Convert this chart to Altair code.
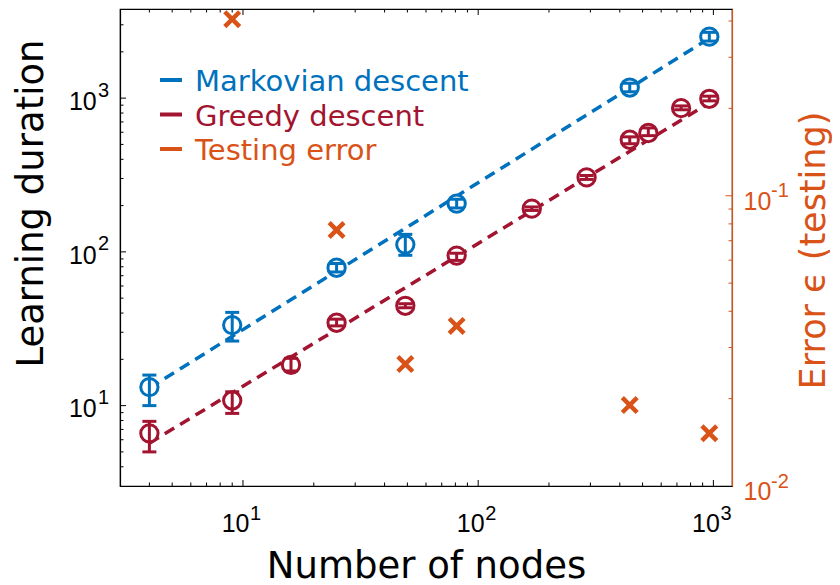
import altair as alt
import pandas as pd

# ---------------- data ----------------
nodes_markov = [4, 9, 25, 49, 81, 441, 961]
dur_markov = [13.2, 33.4, 78.8, 111.5, 206, 1172, 2512]
lo_markov = [10.0, 26.3, 74, 95, 193, 1100, 2350]
hi_markov = [15.8, 40.4, 84, 130, 220, 1250, 2680]

nodes_greedy = [4, 9, 16, 25, 49, 81, 169, 289, 441, 529, 729, 961]
dur_greedy = [6.6, 10.8, 18.4, 34.6, 44.6, 94.6, 191, 305, 536, 593, 861, 990]
lo_greedy = [5.0, 8.9, 16.8, 33.0, 43.3, 88, 186, 296, 505, 570, 840, 960]
hi_greedy = [7.9, 12.3, 20.3, 36.5, 46, 98, 196, 314, 560, 640, 890, 1030]

nodes_error = [9, 25, 49, 81, 441, 961]
test_error = [0.406, 0.0762, 0.0263, 0.0356, 0.019, 0.0152]

fit_nodes = [4, 961]
fit_markov = [13, 2450]
fit_greedy = [5.7, 930]

series_names = ["Markovian descent", "Greedy descent"]
legend_labels = ["Markovian descent", "Greedy descent", "Testing error"]

x_major = [10, 100, 1000]
x_exp = ["1", "2", "3"]
yl_major = [10, 100, 1000]
yl_exp = ["1", "2", "3"]
yr_major = [0.01, 0.1]
yr_exp = ["-2", "-1"]

# ---------------- styling ----------------
BLUE, RED, ORANGE = "#0072BD", "#A2142F", "#D95319"
W, H = 612, 477
TITLE_FONT = "DejaVu Sans"
TICK_FONT = "Liberation Sans"

xscale = alt.Scale(type="log", domain=[3, 1200], nice=False)
ysl = alt.Scale(type="log", domain=[3, 3800], nice=False)
ysr = alt.Scale(type="log", domain=[0.01, 0.44], nice=False)
cscale = alt.Scale(domain=series_names, range=[BLUE, RED])

x_minor = [m * 10 ** k for k in range(0, 3) for m in range(2, 10) if 3 < m * 10 ** k < 1200]
yl_minor = [m * 10 ** k for k in range(0, 4) for m in range(2, 10) if 3 < m * 10 ** k < 3800]
yr_minor = [m * 10.0 ** k for k in (-2, -1) for m in range(2, 10) if 0.01 < m * 10.0 ** k < 0.44]

pts = pd.concat([
    pd.DataFrame({"n": nodes_markov, "d": dur_markov, "lo": lo_markov, "hi": hi_markov,
                  "series": series_names[0]}),
    pd.DataFrame({"n": nodes_greedy, "d": dur_greedy, "lo": lo_greedy, "hi": hi_greedy,
                  "series": series_names[1]}),
])
fits = pd.DataFrame({"n": fit_nodes + fit_nodes, "d": fit_markov + fit_greedy,
                     "series": [series_names[0]] * 2 + [series_names[1]] * 2})
errs = pd.DataFrame({"n": nodes_error, "e": test_error})

xaxis = alt.Axis(title="Number of nodes", labels=False, ticks=False, grid=False,
                 domainColor="black", domainWidth=1.2, titleFont=TITLE_FONT, titleFontSize=37,
                 titleFontWeight="normal", titleColor="black", titleX=W / 2, titleY=91,
                 titleBaseline="alphabetic", titleAlign="center", titleAngle=0)
yaxis_l = alt.Axis(title="Learning duration", labels=False, ticks=False, grid=False,
                   domainColor="black", domainWidth=1.2, titleFont=TITLE_FONT, titleFontSize=37,
                   titleFontWeight="normal", titleColor="black", titleAngle=270, titleX=-78,
                   titleY=194, titleBaseline="alphabetic", titleAlign="center")
yaxis_r = alt.Axis(orient="right", title="Error \u03f5 (testing)", labels=False, ticks=False,
                   grid=False, domainColor=ORANGE, domainWidth=1.2, titleFont=TITLE_FONT,
                   titleFontSize=35, titleFontWeight="normal", titleColor=ORANGE, titleAngle=270,
                   titleX=92, titleY=241, titleBaseline="alphabetic", titleAlign="center")


def X(field="n:Q"):
    return alt.X(field, scale=xscale, axis=xaxis)


def YL(field):
    return alt.Y(field, scale=ysl, axis=yaxis_l)


def YR(field):
    return alt.Y(field, scale=ysr, axis=yaxis_r)


col = alt.Color("series:N", scale=cscale, legend=None)

# ---------------- left (duration) layers ----------------
lines = alt.Chart(fits).mark_line(strokeDash=[11, 7], strokeWidth=3.5).encode(
    x=X(), y=YL("d:Q"), color=col, detail="series:N")
circles = alt.Chart(pts).mark_point(shape="circle", fill="white", strokeWidth=3, size=300,
                                    opacity=1).encode(x=X(), y=YL("d:Q"), color=col)
bars = alt.Chart(pts).mark_rule(strokeWidth=3).encode(
    x=X(), y=YL("lo:Q"), y2="hi:Q", color=col)
cap_lo = alt.Chart(pts).mark_tick(orient="horizontal", size=14, thickness=3, opacity=1).encode(
    x=X(), y=YL("lo:Q"), color=col)
cap_hi = alt.Chart(pts).mark_tick(orient="horizontal", size=14, thickness=3, opacity=1).encode(
    x=X(), y=YL("hi:Q"), color=col)


def xticks(vals, ln):
    d = pd.DataFrame({"v": vals})
    b = alt.Chart(d).mark_rule(color="black", strokeWidth=1).encode(
        x=X("v:Q"), y=alt.value(H), y2=alt.value(H - ln))
    t = alt.Chart(d).mark_rule(color="black", strokeWidth=1).encode(
        x=X("v:Q"), y=alt.value(0), y2=alt.value(ln))
    return [b, t]


def ylticks(vals, ln):
    d = pd.DataFrame({"v": vals})
    return alt.Chart(d).mark_rule(color="black", strokeWidth=1).encode(
        y=YL("v:Q"), x=alt.value(0), x2=alt.value(ln))


def yrticks(vals, ln):
    d = pd.DataFrame({"v": vals})
    return alt.Chart(d).mark_rule(color=ORANGE, strokeWidth=1).encode(
        y=YR("v:Q"), x=alt.value(W), x2=alt.value(W - ln))


xl = pd.DataFrame({"v": x_major, "b": ["10"] * 3, "e": x_exp})
xlab_b = alt.Chart(xl).mark_text(font=TICK_FONT, fontSize=25, align="right",
                                 baseline="alphabetic", dx=6.5, color="black").encode(
    x=X("v:Q"), y=alt.value(H + 46), text="b:N")
xlab_e = alt.Chart(xl).mark_text(font=TICK_FONT, fontSize=20, align="left",
                                 baseline="alphabetic", dx=7, color="black").encode(
    x=X("v:Q"), y=alt.value(H + 34), text="e:N")

yl = pd.DataFrame({"v": yl_major, "b": ["10"] * 3, "e": yl_exp})
ylab_b = alt.Chart(yl).mark_text(font=TICK_FONT, fontSize=25, align="right",
                                 baseline="alphabetic", dy=11.7, color="black").encode(
    y=YL("v:Q"), x=alt.value(-23.3), text="b:N")
ylab_e = alt.Chart(yl).mark_text(font=TICK_FONT, fontSize=20, align="left",
                                 baseline="alphabetic", dy=-1.6, color="black").encode(
    y=YL("v:Q"), x=alt.value(-22), text="e:N")

legend_layers = []
for i, (lab, c) in enumerate(zip(legend_labels, [BLUE, RED, ORANGE])):
    d = pd.DataFrame({"t": [lab]})
    legend_layers.append(alt.Chart(d).mark_rule(color=c, strokeWidth=4).encode(
        x=alt.value(40), x2=alt.value(62), y=alt.value(71 + 34.5 * i)))
    legend_layers.append(alt.Chart(d).mark_text(font=TITLE_FONT, fontSize=29, align="left",
                                                baseline="alphabetic", color=c).encode(
        x=alt.value(75), y=alt.value(82 + 34.5 * i), text="t:N"))

left = alt.layer(
    lines, circles, bars, cap_lo, cap_hi,
    *xticks(x_major, 6), *xticks(x_minor, 3.5),
    ylticks(yl_major, 6), ylticks(yl_minor, 3.5),
    xlab_b, xlab_e, ylab_b, ylab_e, *legend_layers,
)

# ---------------- right (error) layers ----------------
X_PATH = "M-1,-1L1,1M1,-1L-1,1"
crosses = alt.Chart(errs).mark_point(shape=X_PATH, filled=False, strokeWidth=4.5, size=220,
                                     color=ORANGE, opacity=1).encode(x=X(), y=YR("e:Q"))

yr = pd.DataFrame({"v": yr_major, "b": ["10"] * 2, "e": yr_exp})
yrlab_b = alt.Chart(yr).mark_text(font=TICK_FONT, fontSize=25, align="left",
                                  baseline="alphabetic", dy=14.3, color=ORANGE).encode(
    y=YR("v:Q"), x=alt.value(W + 11.6), text="b:N")
yrlab_e = alt.Chart(yr).mark_text(font=TICK_FONT, fontSize=20, align="left",
                                  baseline="alphabetic", dy=1.6, color=ORANGE).encode(
    y=YR("v:Q"), x=alt.value(W + 39), text="e:N")

right = alt.layer(crosses, yrticks([0.1], 6.5), yrticks(yr_minor, 3.5), yrlab_b, yrlab_e)

chart = alt.layer(left, right).resolve_scale(y="independent").properties(
    width=W, height=H,
    autosize=alt.AutoSizeParams(type="none"),
    padding={"left": 112, "top": 1, "right": 100, "bottom": 99},
).configure_view(stroke="black", strokeWidth=1.2)

chart.save("out.html", embed_options={"renderer": "svg", "actions": False})
